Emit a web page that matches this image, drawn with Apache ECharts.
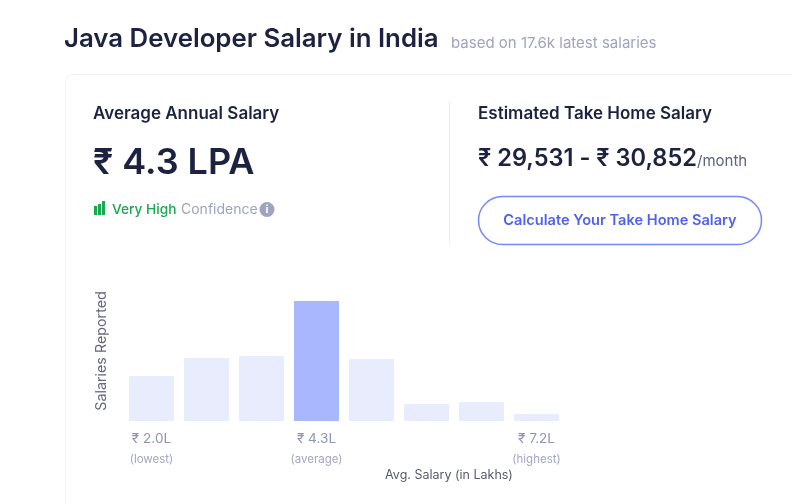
<!DOCTYPE html>
<html>
<head>
<meta charset="utf-8">
<title>Java Developer Salary in India</title>
<style>
html,body{margin:0;padding:0;background:#fff;}
#main{width:792px;height:504px;}
</style>
<script src="https://cdn.jsdelivr.net/npm/echarts@6/dist/echarts.min.js"></script>
</head>
<body>
<div id="main"></div>
<script>
// bars (no scale on the chart, so relative heights)
var categories = ["2.0", "b2", "b3", "4.3", "b5", "b6", "b7", "7.2"];
var reported = [45, 63, 65, 120, 62, 17, 19, 7];
var highlightIndex = 3;
// only three buckets have a label
var tickAmounts = ["₹ 2.0L", "", "", "₹ 4.3L", "", "", "", "₹ 7.2L"];
var tickNotes = ["(lowest)", "", "", "(average)", "", "", "", "(highest)"];

var FONT = "Inter";
var DARK = "#1c2240";
var GREY = "#9ea3c0";

function txt(x, y, text, size, weight, color, align){
	return {
		type: "text",
		x: x,
		y: y,
		style: {
			text: text,
			fontFamily: FONT,
			fontSize: size,
			fontWeight: weight,
			fill: color,
			align: align || "left",
			verticalAlign: "middle"
		}
	};
}
function box(x, y, w, h, color){
	return {type: "rect", shape: {x: x, y: y, width: w, height: h}, style: {fill: color}};
}

var myChart = echarts.init(document.getElementById("main"), null, {renderer: "canvas"});

var option = {
	animation: false,
	backgroundColor: "#fff",
	grid: {left: 124, right: 228, top: 301, bottom: 83},
	xAxis: {
		type: "category",
		data: categories,
		axisLine: {show: false},
		axisTick: {show: false},
		axisLabel: {
			interval: 0,
			margin: 8,
			formatter: function(value, i){
				if(tickAmounts[i] == ""){
					return "";
				}
				return "{a|" + tickAmounts[i] + "}\n{b|" + tickNotes[i] + "}";
			},
			rich: {
				a: {fontFamily: FONT, fontSize: 13.6, color: "#8f94b4", lineHeight: 20},
				b: {fontFamily: FONT, fontSize: 11.5, color: "#a3a7c2", lineHeight: 21}
			}
		}
	},
	yAxis: {
		type: "value",
		min: 0,
		max: 120,
		axisLine: {show: false},
		axisTick: {show: false},
		axisLabel: {show: false},
		splitLine: {show: false}
	},
	series: [
		{
			type: "bar",
			barWidth: 45,
			data: reported.map(function(v, i){
				return {
					value: v,
					itemStyle: {color: i == highlightIndex ? "#a9b7ff" : "#e9ecfd"}
				};
			})
		}
	],
	graphic: [
		// card outline runs off the right and bottom of the window
		{
			type: "rect",
			shape: {x: 65.5, y: 74.5, width: 800, height: 520, r: 8},
			style: {fill: "#fff", stroke: "#eff2f7", lineWidth: 1},
			z: -1
		},
		box(449, 101, 1, 144, "#eceef6"),

		txt(64, 39, "Java Developer Salary in India", 25.8, 600, DARK),
		txt(451, 43, "based on 17.6k latest salaries", 15, 400, GREY),

		txt(93, 114, "Average Annual Salary", 17, 600, DARK),
		txt(93, 163, "₹ 4.3 LPA", 36, 600, DARK),

		// confidence icon
		box(94, 206, 3, 9, "#18a94f"),
		box(98, 204, 3, 11, "#18a94f"),
		box(102, 201, 3, 14, "#18a94f"),
		txt(112, 210, "Very High", 13.7, 500, "#18a94f"),
		txt(181, 210, "Confidence", 14, 400, GREY),
		{type: "circle", shape: {cx: 267, cy: 209.5, r: 7.5}, style: {fill: "#9ea3c0"}},
		txt(267, 210, "i", 11, 700, "#fff", "center"),

		txt(478, 114, "Estimated Take Home Salary", 17, 600, DARK),
		{
			type: "text",
			x: 478,
			y: 159,
			style: {
				text: "{a|₹ 29,531 - ₹ 30,852}{b|/month}",
				verticalAlign: "middle",
				rich: {
					a: {fontFamily: FONT, fontSize: 23.6, fontWeight: 600, fill: DARK, color: DARK},
					b: {fontFamily: FONT, fontSize: 15, fill: "#5c6280", color: "#5c6280", padding: [5, 0, 0, 0]}
				}
			}
		},
		{
			type: "rect",
			shape: {x: 478.5, y: 196.5, width: 283, height: 48, r: 24},
			style: {fill: "#fff", stroke: "#7488fb", lineWidth: 1.5}
		},
		txt(620, 221, "Calculate Your Take Home Salary", 14.6, 600, "#4f62ee", "center"),

		// axis names, placed by hand like the original page
		{
			type: "text",
			x: 101.5,
			y: 351,
			rotation: Math.PI / 2,
			style: {
				text: "Salaries Reported",
				fontFamily: FONT,
				fontSize: 14.3,
				fill: "#63677f",
				align: "center",
				verticalAlign: "middle"
			}
		},
		txt(449, 475, "Avg. Salary (in Lakhs)", 12.5, 400, "#565a70", "center")
	]
};
myChart.setOption(option);
</script>
</body>
</html>
